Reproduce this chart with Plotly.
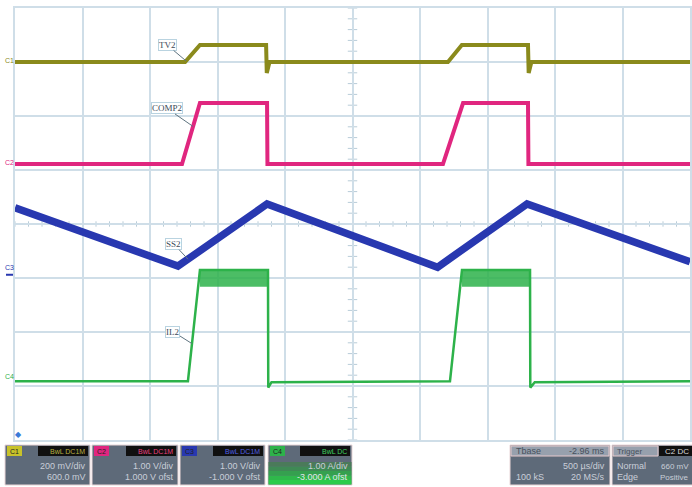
import numpy as np
import plotly.graph_objects as go

W, H = 692, 487
# plot grid area in pixels
GX0, GX1, GY0, GY1 = 15, 690, 8, 440

# ---- time base: 500 us/div, 10 divisions (ms) ----
t_c1 = [0.0, 1.26, 1.37, 1.86, 1.865, 1.885, 3.207, 3.31, 3.80, 3.805, 3.825, 5.0]
v_c1 = [0.0, 0.0, 0.063, 0.063, -0.041, 0.0, 0.0, 0.063, 0.063, -0.041, 0.0, 0.0]

t_c2 = [0.0, 1.237, 1.37, 1.867, 1.870, 3.170, 3.319, 3.800, 3.803, 5.0]
v_c2 = [0.11, 0.11, 1.24, 1.24, 0.11, 0.11, 1.24, 1.24, 0.11, 0.11]

t_c3 = [0.0, 1.207, 1.867, 3.130, 3.793, 5.0]
v_c3 = [1.30, 0.22, 1.37, 0.20, 1.37, 0.30]

t_c4 = [0.0, 1.281, 1.370, 1.874, 1.876, 1.90, 3.222, 3.311, 3.815, 3.817, 3.85, 5.0]
v_c4 = [0.09, 0.09, 2.15, 2.15, -0.03, 0.07, 0.09, 2.15, 2.15, -0.03, 0.07, 0.09]
# ripple envelope of the inductor current while the switch is on
c4_on_windows = [(1.370, 1.874), (3.311, 3.815)]
c4_ripple_top = 2.15
c4_ripple_bottom = 1.84

# vertical settings per channel
ch_names = ["C1", "C2", "C3", "C4"]
ch_scale = [0.2, 1.0, 1.0, 1.0]        # units/div
ch_offset = [0.6, 1.0, -1.0, -3.0]     # offset
ch_marker_div = [3.02, 1.13, -0.81, -2.83]  # ground marker positions (div)
ch_colors = ["#8a8a1c", "#e0267f", "#2838b0", "#2db24a"]
ch_widths = [4, 4, 7.5, 2.5]
ch_labels = ["TV2", "COMP2", "SS2", "IL2"]
label_times = [1.267, 1.319, 1.281, 1.311]
label_offsets = [(-19, -16), (-26, -18), (-14, -15), (-19, -12)]

box_scale_text = ["200 mV/div", "1.00 V/div", "1.00 V/div", "1.00 A/div"]
box_offset_text = ["600.0 mV", "1.000 V ofst", "-1.000 V ofst", "-3.000 A ofst"]
box_coupling = ["BwL DC1M", "BwL DC1M", "BwL DC1M", "BwL DC"]

tbase_rows = [("Tbase", "-2.96 ms"), ("", "500 µs/div"), ("100 kS", "20 MS/s")]
trig_rows = [("Trigger", "C2 DC"), ("Normal", "660 mV"), ("Edge", "Positive")]

series = [(t_c1, v_c1), (t_c2, v_c2), (t_c3, v_c3), (t_c4, v_c4)]


def to_div(vals, k):
    return [(v + ch_offset[k]) / ch_scale[k] for v in vals]


def px(x):
    return x / W


def py(y):
    return 1 - y / H


fig = go.Figure()

# green ripple band (drawn under the trace line)
for a, b in c4_on_windows:
    lo = (c4_ripple_bottom + ch_offset[3]) / ch_scale[3]
    hi = (c4_ripple_top + ch_offset[3]) / ch_scale[3]
    fig.add_trace(go.Scatter(x=[a, b, b, a, a], y=[hi, hi, lo, lo, hi],
                             mode="lines", fill="toself",
                             fillcolor="rgba(45,178,74,0.85)",
                             line=dict(width=0), hoverinfo="skip",
                             showlegend=False))

for k, (t, v) in enumerate(series):
    fig.add_trace(go.Scatter(x=t, y=to_div(v, k), mode="lines",
                             line=dict(color=ch_colors[k], width=ch_widths[k]),
                             showlegend=False, hoverinfo="skip"))

# trace labels with leader lines
annotations = []
for k in range(4):
    yv = np.interp(label_times[k], series[k][0], series[k][1])
    ax, ay = label_offsets[k]
    annotations.append(dict(
        x=label_times[k], y=(yv + ch_offset[k]) / ch_scale[k], xref="x", yref="y",
        text=ch_labels[k], showarrow=True, arrowhead=0, arrowwidth=1,
        arrowcolor="#5f7480", ax=ax, ay=ay,
        font=dict(family="Liberation Serif", size=9, color="#3c4a58"),
        bgcolor="rgba(255,255,255,0.9)", bordercolor="#b9d3e0",
        borderwidth=1, borderpad=0))

# ground markers at the left edge
for k in range(4):
    annotations.append(dict(
        x=px(9), y=ch_marker_div[k], xref="paper", yref="y", text=ch_names[k],
        showarrow=False, font=dict(family="Liberation Sans", size=7,
                                   color=ch_colors[k]),
        xanchor="center", yanchor="middle"))

shapes = []
# small blue tick under the C3 marker
shapes.append(dict(type="line", xref="paper", yref="y", x0=px(6), x1=px(13),
                   y0=ch_marker_div[2] - 0.13, y1=ch_marker_div[2] - 0.13,
                   line=dict(color=ch_colors[2], width=2)))

# minor ticks on centre crosshair
for i in range(51):
    tx = i * 0.1
    shapes.append(dict(type="line", xref="x", yref="y", x0=tx, x1=tx,
                       y0=-0.05, y1=0.05, layer="below",
                       line=dict(color="#b8ccd8", width=1)))
for i in range(41):
    ty = -4 + i * 0.2
    shapes.append(dict(type="line", xref="x", yref="y", x0=2.5 - 0.035,
                       x1=2.5 + 0.035, y0=ty, y1=ty, layer="below",
                       line=dict(color="#b8ccd8", width=1)))


def rect(x0, y0, x1, y1, color, line=None):
    shapes.append(dict(type="rect", xref="paper", yref="paper",
                       x0=px(x0), x1=px(x1), y0=py(y1), y1=py(y0),
                       fillcolor=color,
                       line=dict(width=1, color=line) if line else dict(width=0),
                       layer="above"))


def text(x, y, s, color, size=8, anchor="right"):
    annotations.append(dict(x=px(x), y=py(y), xref="paper", yref="paper",
                            text=s, showarrow=False, xanchor=anchor,
                            yanchor="middle",
                            font=dict(family="Liberation Sans", size=size,
                                      color=color)))


BOX = "#5e6a79"
TXT = "#c9ced8"
ROW1, ROW2, ROW3 = 451, 466, 477

# trigger-position marker
annotations.append(dict(x=px(13), y=py(441), xref="paper", yref="paper",
                        text="◆", showarrow=False,
                        font=dict(size=8, color="#3a7ad8")))

box_x = [(5, 90), (92, 178), (180, 265), (268, 352)]
for k, (x0, x1) in enumerate(box_x):
    rect(x0, 445, x1, 485, BOX, line="#e9d6d8")
    if k == 3:
        # green glow on the current channel box
        greens = ["#4b7a5a", "#3f8a55", "#35a04f", "#2fb84b", "#2ccc4a"]
        for j, g in enumerate(greens):
            rect(x0 + 0.5, 462 + j * 4.5, x1 - 0.5, 466.5 + j * 4.5, g)
    rect(x0 + 2, 446, x0 + 17, 456, ch_colors[k] if k != 0 else "#c8c22a")
    text(x0 + 9.5, ROW1, ch_names[k], "#222222", size=7, anchor="center")
    rect(x1 - 52, 446, x1 - 2, 456, "#101010")
    text(x1 - 3, ROW1, box_coupling[k],
         ["#b8b040", "#e8407f", "#5060e0", "#40d060"][k], size=7)
    text(x1 - 2, ROW2, box_scale_text[k], TXT, size=9)
    text(x1 - 2, ROW3, box_offset_text[k], "#e0e6ea" if k == 3 else TXT,
         size=9)

# timebase box
rect(510, 445, 610, 485, BOX, line="#e9d6d8")
rect(511, 446, 609, 456, "#97a0ad", line="#e6c9cc")
for r, (left, right) in enumerate(tbase_rows):
    yy = [ROW1, ROW2, ROW3][r]
    c = "#48505c" if r == 0 else TXT
    if left:
        text(514, yy, left, c, size=9, anchor="left")
    text(607, yy, right, c, size=9)

# trigger box
rect(612, 445, 694, 485, BOX, line="#e9d6d8")
rect(613, 446, 658, 456, "#97a0ad", line="#e6c9cc")
rect(659, 446, 694, 456, "#101010")
for r, (left, right) in enumerate(trig_rows):
    yy = [ROW1, ROW2, ROW3][r]
    c = "#48505c" if r == 0 else TXT
    text(615, yy, left, c, size=9 if r else 8, anchor="left")
    text(691, yy, right, "#d8d8d8" if r == 0 else TXT, size=8)

fig.update_layout(
    width=W, height=H,
    margin=dict(l=0, r=0, t=0, b=0),
    paper_bgcolor="white", plot_bgcolor="white",
    xaxis=dict(domain=[GX0 / W, GX1 / W], range=[0, 5], dtick=0.5, tick0=0,
               showgrid=True, gridcolor="#cfdee8", gridwidth=1.5,
               zeroline=False, showticklabels=False, ticks="",
               showline=True, linecolor="#cfdee8", mirror=True, linewidth=1.5,
               fixedrange=True),
    yaxis=dict(domain=[1 - GY1 / H, 1 - GY0 / H], range=[-4, 4], dtick=1,
               tick0=0, showgrid=True, gridcolor="#cfdee8", gridwidth=1.5,
               zeroline=False, showticklabels=False, ticks="",
               showline=True, linecolor="#cfdee8", mirror=True, linewidth=1.5,
               fixedrange=True),
    shapes=shapes, annotations=annotations,
)

fig.write_html("out.html")
